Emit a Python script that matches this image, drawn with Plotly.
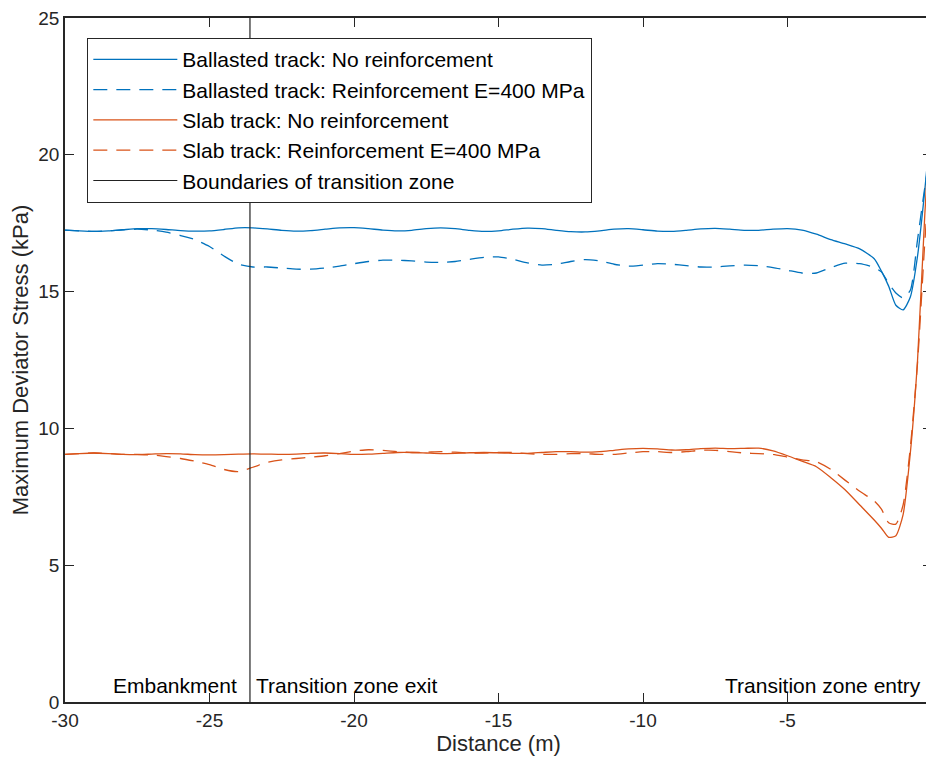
import plotly.graph_objects as go

distance = [-30, -29.5, -29, -28.5, -28, -27.5, -27, -26.5, -26, -25.5, -25, -24.5, -24, -23.5,
            -23, -22.5, -22, -21.5, -21, -20.5, -20, -19.5, -19, -18.5, -18, -17.5, -17, -16.5,
            -16, -15.5, -15, -14.5, -14, -13.5, -13, -12.5, -12, -11.5, -11, -10.5, -10, -9.5,
            -9, -8.5, -8, -7.5, -7, -6.5, -6, -5.5, -5, -4.5, -4, -3.5, -3, -2.5, -2, -1.75,
            -1.5, -1.25, -1.0, -0.75, -0.5, -0.25, 0]

ballasted_none = [17.25, 17.22, 17.2, 17.22, 17.26, 17.3, 17.3, 17.27, 17.23, 17.21, 17.22, 17.27, 17.33, 17.33,
                  17.29, 17.24, 17.21, 17.23, 17.28, 17.33, 17.34, 17.3, 17.25, 17.22, 17.24, 17.3, 17.33, 17.3,
                  17.24, 17.2, 17.22, 17.28, 17.32, 17.3, 17.24, 17.19, 17.18, 17.22, 17.28, 17.3, 17.26, 17.21,
                  17.2, 17.24, 17.29, 17.31, 17.28, 17.24, 17.24, 17.28, 17.3, 17.25, 17.1, 16.9, 16.74, 16.56, 16.2, 15.75,
                  15.2, 14.5, 14.33, 14.8, 16.3, 18.7, 21.5]

ballasted_reinf = [17.25, 17.22, 17.2, 17.22, 17.26, 17.28, 17.25, 17.17, 17.05, 16.9, 16.65, 16.3, 16.0, 15.9,
                   15.9, 15.86, 15.82, 15.82, 15.86, 15.93, 16.02, 16.1, 16.15, 16.15, 16.12, 16.08, 16.07, 16.1,
                   16.18, 16.25, 16.27, 16.18, 16.05, 15.97, 16.0, 16.1, 16.17, 16.12, 16.0, 15.93, 15.97, 16.02,
                   16.0, 15.95, 15.9, 15.9, 15.94, 15.97, 15.95, 15.88, 15.78, 15.68, 15.68, 15.88, 16.04, 16.02, 15.88, 15.72,
                   15.3, 14.95, 14.77, 15.05, 16.9, 18.8, 20.5]

slab_none = [9.05, 9.08, 9.1, 9.08, 9.05, 9.04, 9.06, 9.08, 9.07, 9.04, 9.03, 9.04, 9.06, 9.07,
             9.06, 9.05, 9.06, 9.09, 9.1, 9.08, 9.05, 9.06, 9.09, 9.12, 9.12, 9.1, 9.08, 9.09,
             9.11, 9.12, 9.11, 9.09, 9.09, 9.12, 9.15, 9.15, 9.13, 9.15, 9.2, 9.25, 9.27, 9.25,
             9.21, 9.22, 9.26, 9.28, 9.26, 9.27, 9.28, 9.18, 9.0, 8.8, 8.6, 8.2, 7.75, 7.2, 6.65, 6.35,
             6.02, 6.08, 6.85, 9.1, 12.5, 17.8, 22.3]

slab_reinf = [9.05, 9.08, 9.1, 9.08, 9.05, 9.05, 9.03, 8.97, 8.9, 8.8, 8.68, 8.5, 8.42, 8.58,
              8.76, 8.85, 8.9, 8.95, 9.0, 9.08, 9.17, 9.22, 9.2, 9.15, 9.12, 9.13, 9.15, 9.13,
              9.1, 9.1, 9.12, 9.12, 9.08, 9.05, 9.05, 9.08, 9.08, 9.05, 9.05, 9.1, 9.15, 9.15,
              9.12, 9.15, 9.2, 9.2, 9.15, 9.1, 9.08, 9.05, 8.95, 8.85, 8.78, 8.5, 8.1, 7.7, 7.35, 7.05,
              6.55, 6.5, 7.2, 9.3, 12.4, 16.8, 20.5]

boundary_x = [-23.6, -23.6, None, 0, 0]
boundary_y = [0, 25, None, 0, 25]

x_ticks = [-30, -25, -20, -15, -10, -5, 0]
y_ticks = [0, 5, 10, 15, 20, 25]

BLUE = "#0072BD"
ORANGE = "#D95319"
FONT = "Liberation Sans, Arial, sans-serif"
DASH = "14px,9px"

fig = go.Figure()
fig.add_trace(go.Scatter(x=distance, y=ballasted_none, mode="lines", name="Ballasted track: No reinforcement",
                         line=dict(color=BLUE, width=1.3, shape="spline", smoothing=0.6)))
fig.add_trace(go.Scatter(x=distance, y=ballasted_reinf, mode="lines", name="Ballasted track: Reinforcement E=400 MPa",
                         line=dict(color=BLUE, width=1.3, dash=DASH, shape="spline", smoothing=0.6)))
fig.add_trace(go.Scatter(x=distance, y=slab_none, mode="lines", name="Slab track: No reinforcement",
                         line=dict(color=ORANGE, width=1.3, shape="spline", smoothing=0.6)))
fig.add_trace(go.Scatter(x=distance, y=slab_reinf, mode="lines", name="Slab track: Reinforcement E=400 MPa",
                         line=dict(color=ORANGE, width=1.3, dash=DASH, shape="spline", smoothing=0.6)))
fig.add_trace(go.Scatter(x=boundary_x, y=boundary_y, mode="lines", name="Boundaries of transition zone",
                         line=dict(color="#222222", width=1.2)))

annots = [
    dict(x=-23.98, text="Embankment", xanchor="right"),
    dict(x=-23.47, text="Transition zone exit", xanchor="left"),
    dict(x=-0.32, text="Transition zone entry", xanchor="right"),
]
for a in annots:
    fig.add_annotation(x=a["x"], y=0.11, text=a["text"], xanchor=a["xanchor"], yanchor="bottom",
                       showarrow=False, font=dict(family=FONT, size=21, color="#000000"))

fig.update_layout(
    width=926, height=753,
    margin=dict(l=57, r=2, t=10, b=59),
    plot_bgcolor="white", paper_bgcolor="white",
    font=dict(family=FONT, size=19, color="#262626"),
    showlegend=True,
    legend=dict(x=0.0254, y=0.971, xanchor="left", yanchor="top",
                bgcolor="white", bordercolor="#262626", borderwidth=1.3,
                font=dict(family=FONT, size=21, color="#000000"),
                tracegroupgap=0, itemwidth=84),
)
fig.update_xaxes(range=[-30, 0], tickvals=x_ticks, ticktext=[str(v) for v in x_ticks],
                 ticks="inside", ticklen=9, tickwidth=1.3, tickcolor="#262626",
                 showline=True, linecolor="#262626", linewidth=1.8, mirror="allticks",
                 showgrid=False, zeroline=False, automargin=False, ticklabeloverflow="allow",
                 title=dict(text="Distance (m)", font=dict(size=22, color="#262626"), standoff=4),
                 tickfont=dict(size=19, color="#262626"))
fig.update_yaxes(range=[0, 25], tickvals=y_ticks, ticktext=[str(v) for v in y_ticks],
                 ticks="inside", ticklen=9, tickwidth=1.3, tickcolor="#262626",
                 showline=True, linecolor="#262626", linewidth=1.8, mirror="allticks",
                 showgrid=False, zeroline=False, automargin=False, ticklabeloverflow="allow",
                 title=dict(text="Maximum Deviator Stress (kPa)", font=dict(size=22, color="#262626"), standoff=4),
                 tickfont=dict(size=19, color="#262626"))

fig.write_html("out.html")
